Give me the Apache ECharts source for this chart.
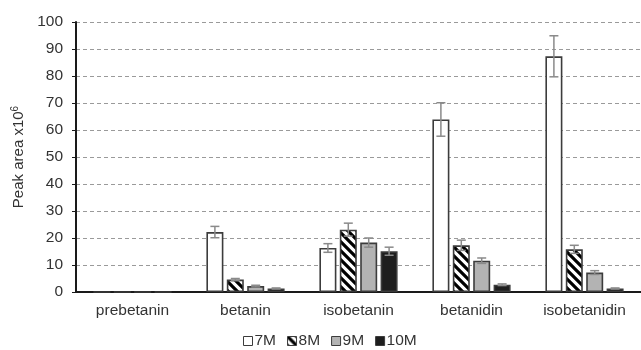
<!DOCTYPE html>
<html>
<head>
<meta charset="utf-8">
<script src="https://cdn.jsdelivr.net/npm/echarts@6/dist/echarts.min.js"></script>
<style>html,body{margin:0;padding:0;background:#fff}#c{width:641px;height:350px}</style>
</head>
<body>
<div id="c"></div>
<script>
var categories = ['prebetanin', 'betanin', 'isobetanin', 'betanidin', 'isobetanidin'];
var seriesNames = ['7M', '8M', '9M', '10M'];
var m7 = [0, 22.2, 16.3, 63.9, 87.3];
var m7err = [0, 2.1, 1.6, 6.2, 7.6];
var m8 = [0, 4.6, 23.1, 17.3, 15.8];
var m8err = [0, 0.4, 2.4, 1.9, 1.5];
var m9 = [0, 2.2, 18.3, 11.6, 7.2];
var m9err = [0, 0.3, 1.7, 1.0, 0.7];
var m10 = [0, 1.3, 15.1, 2.7, 1.3];
var m10err = [0, 0.2, 1.5, 0.3, 0.2];
var yTicks = [0, 10, 20, 30, 40, 50, 60, 70, 80, 90, 100];

var values = [m7, m8, m9, m10];
var errors = [m7err, m8err, m9err, m10err];

// hatch pattern
var pc = document.createElement('canvas');
pc.width = 9; pc.height = 9;
var g = pc.getContext('2d');
g.fillStyle = '#fff'; g.fillRect(0, 0, 9, 9);
g.strokeStyle = '#000'; g.lineWidth = 3.2;
g.beginPath();
g.moveTo(-9, -9); g.lineTo(18, 18);
g.moveTo(-9, 0); g.lineTo(9, 18);
g.moveTo(0, -9); g.lineTo(18, 9);
g.stroke();

var fills = ['#ffffff', {image: pc, repeat: 'repeat'}, '#b3b3b3', '#1e1e1e'];
var BW = 17, GAP = 3.4;
var FS = 15.5;

var chart = echarts.init(document.getElementById('c'), null, {renderer: 'canvas'});
var series = [];
seriesNames.forEach(function (n, i) {
  series.push({
    name: n, type: 'bar', data: values[i], barWidth: BW, barGap: (GAP / BW * 100) + '%',
    itemStyle: {color: fills[i], borderColor: '#3c3c3c', borderWidth: 1.6},
    emphasis: {disabled: true}, z: 2
  });
});
var errData = [];
values.forEach(function (v, si) {
  v.forEach(function (val, ci) {
    if (errors[si][ci] > 0) errData.push([ci, val, errors[si][ci], si]);
  });
});
series.push({
  type: 'custom', name: 'err', data: errData, z: 5, silent: true,
  renderItem: function (params, api) {
    var ci = api.value(0), val = api.value(1), e = api.value(2), si = api.value(3);
    var total = 4 * BW + 3 * GAP;
    var base = api.coord([ci, 0]);
    var x = base[0] - total / 2 + BW / 2 + si * (BW + GAP);
    var yt = api.coord([ci, val + e])[1];
    var yb = api.coord([ci, val - e])[1];
    var st = {stroke: '#8a8a8a', lineWidth: 1.5};
    return {type: 'group', children: [
      {type: 'line', shape: {x1: x, y1: yt, x2: x, y2: yb}, style: st},
      {type: 'line', shape: {x1: x - 4.5, y1: yt, x2: x + 4.5, y2: yt}, style: st},
      {type: 'line', shape: {x1: x - 4.5, y1: yb, x2: x + 4.5, y2: yb}, style: st}
    ]};
  }
});

chart.setOption({
  animation: false,
  textStyle: {fontFamily: 'Liberation Sans, Arial, sans-serif'},
  grid: {left: 76, right: -7.5, top: 22, bottom: 58},
  legend: {
    data: seriesNames, top: 328, left: 238, icon: 'rect', itemWidth: 9, itemHeight: 9, itemGap: 11,
    textStyle: {fontSize: FS, color: '#333', padding: [0, 0, 0, -3]},
    itemStyle: {borderColor: '#3c3c3c', borderWidth: 1}
  },
  xAxis: {
    type: 'category', data: categories,
    axisLine: {lineStyle: {color: '#1a1a1a', width: 2}},
    axisTick: {show: false},
    axisLabel: {fontSize: FS, color: '#333', margin: 11}
  },
  yAxis: {
    type: 'value', min: yTicks[0], max: yTicks[yTicks.length - 1], interval: 10,
    name: '{a|Peak area x10}{s|6}', nameLocation: 'middle', nameGap: 45, nameRotate: 90,
    nameTextStyle: {rich: {a: {fontSize: 15, color: '#333'}, s: {fontSize: 10, color: '#333', verticalAlign: 'top', padding: [0, 0, 6, 0]}}},
    axisLine: {show: true, lineStyle: {color: '#1a1a1a', width: 2}},
    axisTick: {show: true, length: 4, lineStyle: {color: '#1a1a1a', width: 1}},
    axisLabel: {fontSize: FS, color: '#333', margin: 13},
    splitLine: {lineStyle: {color: '#9a9a9a', type: [4, 3], width: 1}}
  },
  series: series
});
</script>
</body>
</html>
